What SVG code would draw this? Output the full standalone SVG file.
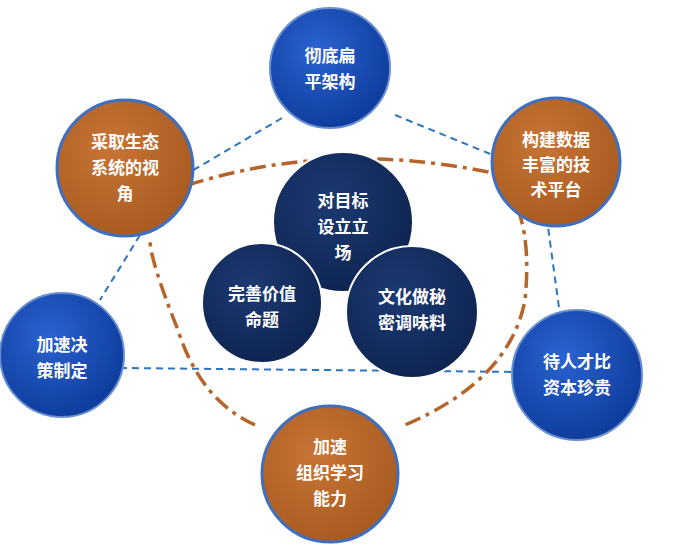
<svg xmlns="http://www.w3.org/2000/svg" width="680" height="549" viewBox="0 0 680 549">
<defs>
<radialGradient id="gb" cx="40%" cy="35%" r="70%"><stop offset="0" stop-color="#2a63d0"/><stop offset="1" stop-color="#0d3a9a"/></radialGradient>
<radialGradient id="go" cx="40%" cy="35%" r="70%"><stop offset="0" stop-color="#c77535"/><stop offset="1" stop-color="#a85a20"/></radialGradient>
<radialGradient id="gn" cx="40%" cy="35%" r="70%"><stop offset="0" stop-color="#1c3a72"/><stop offset="1" stop-color="#0e2450"/></radialGradient>
<style>
.b{fill:url(#gb);stroke:#6a8fd0;stroke-width:2}
.o{fill:url(#go);stroke:#3e6fc0;stroke-width:3}
.n{fill:url(#gn);stroke:#fff;stroke-width:2}
text{font-family:"Liberation Sans","Noto Sans CJK SC",sans-serif;font-size:17px;font-weight:bold;fill:#fff;text-anchor:middle}
.dash{fill:none;stroke:#2e75c0;stroke-width:2;stroke-dasharray:7 5}
.dd{fill:none;stroke:#b5642a;stroke-width:3.5;stroke-dasharray:16 6 4 6}
</style>
</defs>
<rect width="680" height="549" fill="#fff"/>
<g id="connectors">
<path class="dash" d="M282,118 L190,172 M395,115 L500,158 M545,205 L560,315 M140,235 L100,300 M120,368 L520,372"/>
<path class="dd" d="M188,185 Q330,140 488,172 Q535,200 525,300 Q510,380 405,425 M255,425 Q200,400 178,330 Q150,260 150,240"/>
</g>
<g id="n1"><circle class="b" cx="330" cy="68" r="60"/><text x="330" y="62">彻底扁</text><text x="330" y="88">平架构</text></g>
<g id="n2"><circle class="o" cx="556" cy="162" r="64"/><text x="556" y="146">构建数据</text><text x="556" y="171">丰富的技</text><text x="556" y="196">术平台</text></g>
<g id="n3"><circle class="o" cx="125" cy="168" r="68"/><text x="125" y="148">采取生态</text><text x="125" y="174">系统的视</text><text x="125" y="200">角</text></g>
<g id="n4"><circle class="b" cx="62" cy="355" r="62"/><text x="62" y="351">加速决</text><text x="62" y="377">策制定</text></g>
<g id="n5"><circle class="b" cx="577" cy="375" r="65"/><text x="577" y="368">待人才比</text><text x="577" y="394">资本珍贵</text></g>
<g id="n6"><circle class="o" cx="330" cy="474" r="68"/><text x="330" y="453">加速</text><text x="330" y="479">组织学习</text><text x="330" y="505">能力</text></g>
<g id="c1"><circle class="n" cx="343" cy="222" r="70"/><text x="343" y="207">对目标</text><text x="343" y="233">设立立</text><text x="343" y="259">场</text></g>
<g id="c2"><circle class="n" cx="262" cy="303" r="60"/><text x="262" y="300">完善价值</text><text x="262" y="326">命题</text></g>
<g id="c3"><circle class="n" cx="412" cy="312" r="66"/><text x="412" y="303">文化做秘</text><text x="412" y="329">密调味料</text></g>
</svg>
